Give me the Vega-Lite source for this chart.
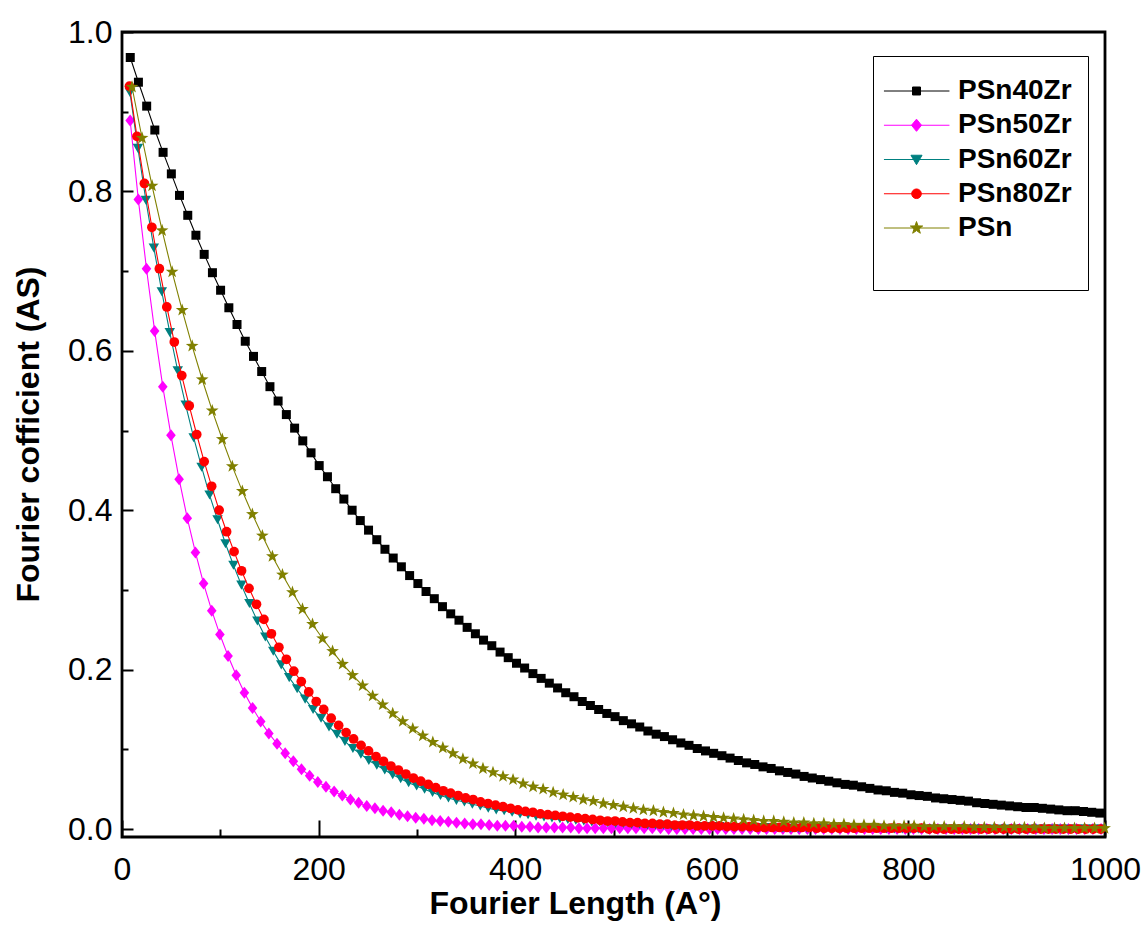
{
"$schema":"https://vega.github.io/schema/vega-lite/v6.json",
"width":983,"height":805,
"autosize":{"type":"none"},
"padding":{"left":122,"top":32,"right":43,"bottom":102},
"background":"white",
"config":{"view":{"stroke":"black","strokeWidth":2.8},"font":"Liberation Sans","axis":{"grid":false,"domain":false,"tickColor":"black","tickWidth":2,"labelColor":"black","titleColor":"black"}},
"datasets":{
"s1":[{"x":8.4,"y":0.968},{"x":16.7,"y":0.937},{"x":25.1,"y":0.907},{"x":33.4,"y":0.877},{"x":41.8,"y":0.849},{"x":50.2,"y":0.822},{"x":58.5,"y":0.795},{"x":66.9,"y":0.770},{"x":75.2,"y":0.745},{"x":83.6,"y":0.721},{"x":92.0,"y":0.698},{"x":100.3,"y":0.676},{"x":108.7,"y":0.654},{"x":117.0,"y":0.633},{"x":125.4,"y":0.612},{"x":133.8,"y":0.593},{"x":142.1,"y":0.574},{"x":150.5,"y":0.555},{"x":158.8,"y":0.537},{"x":167.2,"y":0.520},{"x":175.6,"y":0.503},{"x":183.9,"y":0.487},{"x":192.3,"y":0.472},{"x":200.6,"y":0.456},{"x":209.0,"y":0.442},{"x":217.4,"y":0.427},{"x":225.7,"y":0.414},{"x":234.1,"y":0.400},{"x":242.4,"y":0.387},{"x":250.8,"y":0.375},{"x":259.2,"y":0.363},{"x":267.5,"y":0.351},{"x":275.9,"y":0.340},{"x":284.2,"y":0.329},{"x":292.6,"y":0.318},{"x":301.0,"y":0.308},{"x":309.3,"y":0.298},{"x":317.7,"y":0.289},{"x":326.0,"y":0.279},{"x":334.4,"y":0.270},{"x":342.8,"y":0.262},{"x":351.1,"y":0.253},{"x":359.5,"y":0.245},{"x":367.8,"y":0.237},{"x":376.2,"y":0.230},{"x":384.6,"y":0.222},{"x":392.9,"y":0.215},{"x":401.3,"y":0.208},{"x":409.6,"y":0.202},{"x":418.0,"y":0.195},{"x":426.4,"y":0.189},{"x":434.7,"y":0.183},{"x":443.1,"y":0.177},{"x":451.4,"y":0.171},{"x":459.8,"y":0.166},{"x":468.2,"y":0.160},{"x":476.5,"y":0.155},{"x":484.9,"y":0.150},{"x":493.2,"y":0.145},{"x":501.6,"y":0.141},{"x":510.0,"y":0.136},{"x":518.3,"y":0.132},{"x":526.7,"y":0.128},{"x":535.0,"y":0.123},{"x":543.4,"y":0.119},{"x":551.8,"y":0.116},{"x":560.1,"y":0.112},{"x":568.5,"y":0.108},{"x":576.8,"y":0.105},{"x":585.2,"y":0.101},{"x":593.6,"y":0.098},{"x":601.9,"y":0.095},{"x":610.3,"y":0.092},{"x":618.6,"y":0.089},{"x":627.0,"y":0.086},{"x":635.4,"y":0.083},{"x":643.7,"y":0.081},{"x":652.1,"y":0.078},{"x":660.4,"y":0.076},{"x":668.8,"y":0.073},{"x":677.2,"y":0.071},{"x":685.5,"y":0.069},{"x":693.9,"y":0.066},{"x":702.2,"y":0.064},{"x":710.6,"y":0.062},{"x":719.0,"y":0.060},{"x":727.3,"y":0.058},{"x":735.7,"y":0.056},{"x":744.0,"y":0.055},{"x":752.4,"y":0.053},{"x":760.8,"y":0.051},{"x":769.1,"y":0.049},{"x":777.5,"y":0.048},{"x":785.8,"y":0.046},{"x":794.2,"y":0.045},{"x":802.6,"y":0.043},{"x":810.9,"y":0.042},{"x":819.3,"y":0.041},{"x":827.6,"y":0.039},{"x":836.0,"y":0.038},{"x":844.4,"y":0.037},{"x":852.7,"y":0.036},{"x":861.1,"y":0.035},{"x":869.4,"y":0.033},{"x":877.8,"y":0.032},{"x":886.2,"y":0.031},{"x":894.5,"y":0.030},{"x":902.9,"y":0.029},{"x":911.2,"y":0.028},{"x":919.6,"y":0.027},{"x":928.0,"y":0.027},{"x":936.3,"y":0.026},{"x":944.7,"y":0.025},{"x":953.0,"y":0.024},{"x":961.4,"y":0.023},{"x":969.8,"y":0.023},{"x":978.1,"y":0.022},{"x":986.5,"y":0.021},{"x":994.8,"y":0.020}],
"s2":[{"x":8.3,"y":0.889},{"x":16.6,"y":0.790},{"x":24.9,"y":0.703},{"x":33.2,"y":0.625},{"x":41.5,"y":0.555},{"x":49.8,"y":0.494},{"x":58.1,"y":0.439},{"x":66.4,"y":0.390},{"x":74.7,"y":0.347},{"x":83.0,"y":0.308},{"x":91.3,"y":0.274},{"x":99.6,"y":0.244},{"x":107.9,"y":0.217},{"x":116.2,"y":0.193},{"x":124.5,"y":0.171},{"x":132.8,"y":0.152},{"x":141.1,"y":0.135},{"x":149.4,"y":0.120},{"x":157.7,"y":0.107},{"x":166.0,"y":0.095},{"x":174.3,"y":0.085},{"x":182.6,"y":0.075},{"x":190.9,"y":0.067},{"x":199.2,"y":0.059},{"x":207.5,"y":0.053},{"x":215.8,"y":0.047},{"x":224.1,"y":0.042},{"x":232.4,"y":0.037},{"x":240.7,"y":0.033},{"x":249.0,"y":0.029},{"x":257.3,"y":0.026},{"x":265.6,"y":0.023},{"x":273.9,"y":0.021},{"x":282.2,"y":0.018},{"x":290.5,"y":0.016},{"x":298.8,"y":0.014},{"x":307.1,"y":0.013},{"x":315.4,"y":0.011},{"x":323.7,"y":0.010},{"x":332.0,"y":0.009},{"x":340.3,"y":0.008},{"x":348.6,"y":0.007},{"x":356.9,"y":0.006},{"x":365.2,"y":0.006},{"x":373.5,"y":0.005},{"x":381.8,"y":0.004},{"x":390.1,"y":0.004},{"x":398.4,"y":0.004},{"x":406.7,"y":0.003},{"x":415.0,"y":0.003},{"x":423.3,"y":0.002},{"x":431.6,"y":0.002},{"x":439.9,"y":0.002},{"x":448.2,"y":0.002},{"x":456.5,"y":0.002},{"x":464.8,"y":0.001},{"x":473.1,"y":0.001},{"x":481.4,"y":0.001},{"x":489.7,"y":0.001},{"x":498.0,"y":0.001},{"x":506.3,"y":0.001},{"x":514.6,"y":0.001},{"x":522.9,"y":0.001},{"x":531.2,"y":0.001},{"x":539.5,"y":0.001},{"x":547.8,"y":0.001},{"x":556.1,"y":0},{"x":564.4,"y":0},{"x":572.7,"y":0},{"x":581.0,"y":0},{"x":589.3,"y":0},{"x":597.6,"y":0},{"x":605.9,"y":0},{"x":614.2,"y":0},{"x":622.5,"y":0},{"x":630.8,"y":0},{"x":639.1,"y":0},{"x":647.4,"y":0},{"x":655.7,"y":0},{"x":664.0,"y":0},{"x":672.3,"y":0},{"x":680.6,"y":0},{"x":688.9,"y":0},{"x":697.2,"y":0},{"x":705.5,"y":0},{"x":713.8,"y":0},{"x":722.1,"y":0},{"x":730.4,"y":0},{"x":738.7,"y":0},{"x":747.0,"y":0},{"x":755.3,"y":0},{"x":763.6,"y":0},{"x":771.9,"y":0},{"x":780.2,"y":0},{"x":788.5,"y":0},{"x":796.8,"y":0},{"x":805.1,"y":0},{"x":813.4,"y":0},{"x":821.7,"y":0},{"x":830.0,"y":0},{"x":838.3,"y":0},{"x":846.6,"y":0},{"x":854.9,"y":0},{"x":863.2,"y":0},{"x":871.5,"y":0},{"x":879.8,"y":0},{"x":888.1,"y":0},{"x":896.4,"y":0},{"x":904.7,"y":0},{"x":913.0,"y":0},{"x":921.3,"y":0},{"x":929.6,"y":0},{"x":937.9,"y":0},{"x":946.2,"y":0},{"x":954.5,"y":0},{"x":962.8,"y":0},{"x":971.1,"y":0},{"x":979.4,"y":0},{"x":987.7,"y":0},{"x":996.0,"y":0}],
"s3":[{"x":8.1,"y":0.924},{"x":16.2,"y":0.854},{"x":24.3,"y":0.789},{"x":32.4,"y":0.729},{"x":40.5,"y":0.674},{"x":48.6,"y":0.623},{"x":56.7,"y":0.575},{"x":64.8,"y":0.532},{"x":72.9,"y":0.491},{"x":81.0,"y":0.454},{"x":89.1,"y":0.419},{"x":97.2,"y":0.388},{"x":105.3,"y":0.358},{"x":113.4,"y":0.331},{"x":121.5,"y":0.306},{"x":129.6,"y":0.283},{"x":137.7,"y":0.261},{"x":145.8,"y":0.241},{"x":153.9,"y":0.223},{"x":162.0,"y":0.206},{"x":170.1,"y":0.190},{"x":178.2,"y":0.176},{"x":186.3,"y":0.163},{"x":194.4,"y":0.150},{"x":202.5,"y":0.139},{"x":210.6,"y":0.128},{"x":218.7,"y":0.119},{"x":226.8,"y":0.110},{"x":234.9,"y":0.101},{"x":243.0,"y":0.094},{"x":251.1,"y":0.086},{"x":259.2,"y":0.080},{"x":267.3,"y":0.074},{"x":275.4,"y":0.068},{"x":283.5,"y":0.063},{"x":291.6,"y":0.058},{"x":299.7,"y":0.054},{"x":307.8,"y":0.050},{"x":315.9,"y":0.046},{"x":324.0,"y":0.042},{"x":332.1,"y":0.039},{"x":340.2,"y":0.036},{"x":348.3,"y":0.034},{"x":356.4,"y":0.031},{"x":364.5,"y":0.029},{"x":372.6,"y":0.026},{"x":380.7,"y":0.024},{"x":388.8,"y":0.023},{"x":396.9,"y":0.021},{"x":405.0,"y":0.019},{"x":413.1,"y":0.018},{"x":421.2,"y":0.016},{"x":429.3,"y":0.015},{"x":437.4,"y":0.014},{"x":445.5,"y":0.013},{"x":453.6,"y":0.012},{"x":461.7,"y":0.011},{"x":469.8,"y":0.010},{"x":477.9,"y":0.009},{"x":486.0,"y":0.009},{"x":494.1,"y":0.008},{"x":502.2,"y":0.007},{"x":510.3,"y":0.007},{"x":518.4,"y":0.006},{"x":526.5,"y":0.006},{"x":534.6,"y":0.005},{"x":542.7,"y":0.005},{"x":550.8,"y":0.005},{"x":558.9,"y":0.004},{"x":567.0,"y":0.004},{"x":575.1,"y":0.004},{"x":583.2,"y":0.003},{"x":591.3,"y":0.003},{"x":599.4,"y":0.003},{"x":607.5,"y":0.003},{"x":615.6,"y":0.002},{"x":623.7,"y":0.002},{"x":631.8,"y":0.002},{"x":639.9,"y":0.002},{"x":648.0,"y":0.002},{"x":656.1,"y":0.002},{"x":664.2,"y":0.002},{"x":672.3,"y":0.001},{"x":680.4,"y":0.001},{"x":688.5,"y":0.001},{"x":696.6,"y":0.001},{"x":704.7,"y":0.001},{"x":712.8,"y":0.001},{"x":720.9,"y":0.001},{"x":729.0,"y":0.001},{"x":737.1,"y":0.001},{"x":745.2,"y":0.001},{"x":753.3,"y":0.001},{"x":761.4,"y":0.001},{"x":769.5,"y":0.001},{"x":777.6,"y":0},{"x":785.7,"y":0},{"x":793.8,"y":0},{"x":801.9,"y":0},{"x":810.0,"y":0},{"x":818.1,"y":0},{"x":826.2,"y":0},{"x":834.3,"y":0},{"x":842.4,"y":0},{"x":850.5,"y":0},{"x":858.6,"y":0},{"x":866.7,"y":0},{"x":874.8,"y":0},{"x":882.9,"y":0},{"x":891.0,"y":0},{"x":899.1,"y":0},{"x":907.2,"y":0},{"x":915.3,"y":0},{"x":923.4,"y":0},{"x":931.5,"y":0},{"x":939.6,"y":0},{"x":947.7,"y":0},{"x":955.8,"y":0},{"x":963.9,"y":0},{"x":972.0,"y":0},{"x":980.1,"y":0},{"x":988.2,"y":0},{"x":996.3,"y":0}],
"s4":[{"x":7.6,"y":0.932},{"x":15.2,"y":0.869},{"x":22.8,"y":0.810},{"x":30.4,"y":0.755},{"x":38.0,"y":0.703},{"x":45.6,"y":0.655},{"x":53.2,"y":0.611},{"x":60.8,"y":0.569},{"x":68.4,"y":0.531},{"x":76.0,"y":0.495},{"x":83.6,"y":0.461},{"x":91.2,"y":0.430},{"x":98.8,"y":0.400},{"x":106.4,"y":0.373},{"x":114.0,"y":0.348},{"x":121.6,"y":0.324},{"x":129.2,"y":0.302},{"x":136.8,"y":0.282},{"x":144.4,"y":0.263},{"x":152.0,"y":0.245},{"x":159.6,"y":0.228},{"x":167.2,"y":0.213},{"x":174.8,"y":0.198},{"x":182.4,"y":0.185},{"x":190.0,"y":0.172},{"x":197.6,"y":0.160},{"x":205.2,"y":0.150},{"x":212.8,"y":0.139},{"x":220.4,"y":0.130},{"x":228.0,"y":0.121},{"x":235.6,"y":0.113},{"x":243.2,"y":0.105},{"x":250.8,"y":0.098},{"x":258.4,"y":0.091},{"x":266.0,"y":0.085},{"x":273.6,"y":0.079},{"x":281.2,"y":0.074},{"x":288.8,"y":0.069},{"x":296.4,"y":0.064},{"x":304.0,"y":0.060},{"x":311.6,"y":0.056},{"x":319.2,"y":0.052},{"x":326.8,"y":0.048},{"x":334.4,"y":0.045},{"x":342.0,"y":0.042},{"x":349.6,"y":0.039},{"x":357.2,"y":0.037},{"x":364.8,"y":0.034},{"x":372.4,"y":0.032},{"x":380.0,"y":0.030},{"x":387.6,"y":0.028},{"x":395.2,"y":0.026},{"x":402.8,"y":0.024},{"x":410.4,"y":0.022},{"x":418.0,"y":0.021},{"x":425.6,"y":0.019},{"x":433.2,"y":0.018},{"x":440.8,"y":0.017},{"x":448.4,"y":0.016},{"x":456.0,"y":0.015},{"x":463.6,"y":0.014},{"x":471.2,"y":0.013},{"x":478.8,"y":0.012},{"x":486.4,"y":0.011},{"x":494.0,"y":0.010},{"x":501.6,"y":0.010},{"x":509.2,"y":0.009},{"x":516.8,"y":0.008},{"x":524.4,"y":0.008},{"x":532.0,"y":0.007},{"x":539.6,"y":0.007},{"x":547.2,"y":0.006},{"x":554.8,"y":0.006},{"x":562.4,"y":0.005},{"x":570.0,"y":0.005},{"x":577.6,"y":0.005},{"x":585.2,"y":0.004},{"x":592.8,"y":0.004},{"x":600.4,"y":0.004},{"x":608.0,"y":0.004},{"x":615.6,"y":0.003},{"x":623.2,"y":0.003},{"x":630.8,"y":0.003},{"x":638.4,"y":0.003},{"x":646.0,"y":0.002},{"x":653.6,"y":0.002},{"x":661.2,"y":0.002},{"x":668.8,"y":0.002},{"x":676.4,"y":0.002},{"x":684.0,"y":0.002},{"x":691.6,"y":0.002},{"x":699.2,"y":0.002},{"x":706.8,"y":0.001},{"x":714.4,"y":0.001},{"x":722.0,"y":0.001},{"x":729.6,"y":0.001},{"x":737.2,"y":0.001},{"x":744.8,"y":0.001},{"x":752.4,"y":0.001},{"x":760.0,"y":0.001},{"x":767.6,"y":0.001},{"x":775.2,"y":0.001},{"x":782.8,"y":0.001},{"x":790.4,"y":0.001},{"x":798.0,"y":0.001},{"x":805.6,"y":0.001},{"x":813.2,"y":0.001},{"x":820.8,"y":0},{"x":828.4,"y":0},{"x":836.0,"y":0},{"x":843.6,"y":0},{"x":851.2,"y":0},{"x":858.8,"y":0},{"x":866.4,"y":0},{"x":874.0,"y":0},{"x":881.6,"y":0},{"x":889.2,"y":0},{"x":896.8,"y":0},{"x":904.4,"y":0},{"x":912.0,"y":0},{"x":919.6,"y":0},{"x":927.2,"y":0},{"x":934.8,"y":0},{"x":942.4,"y":0},{"x":950.0,"y":0},{"x":957.6,"y":0},{"x":965.2,"y":0},{"x":972.8,"y":0},{"x":980.4,"y":0},{"x":988.0,"y":0},{"x":995.6,"y":0}],
"s5":[{"x":10.2,"y":0.931},{"x":20.4,"y":0.867},{"x":30.6,"y":0.807},{"x":40.8,"y":0.751},{"x":51.0,"y":0.699},{"x":61.2,"y":0.651},{"x":71.4,"y":0.606},{"x":81.6,"y":0.564},{"x":91.8,"y":0.525},{"x":102.0,"y":0.489},{"x":112.2,"y":0.455},{"x":122.4,"y":0.424},{"x":132.6,"y":0.395},{"x":142.8,"y":0.368},{"x":153.0,"y":0.342},{"x":163.2,"y":0.319},{"x":173.4,"y":0.297},{"x":183.6,"y":0.276},{"x":193.8,"y":0.257},{"x":204.0,"y":0.239},{"x":214.2,"y":0.223},{"x":224.4,"y":0.207},{"x":234.6,"y":0.193},{"x":244.8,"y":0.180},{"x":255.0,"y":0.167},{"x":265.2,"y":0.156},{"x":275.4,"y":0.145},{"x":285.6,"y":0.135},{"x":295.8,"y":0.126},{"x":306.0,"y":0.117},{"x":316.2,"y":0.109},{"x":326.4,"y":0.102},{"x":336.6,"y":0.095},{"x":346.8,"y":0.088},{"x":357.0,"y":0.082},{"x":367.2,"y":0.076},{"x":377.4,"y":0.071},{"x":387.6,"y":0.066},{"x":397.8,"y":0.062},{"x":408.0,"y":0.057},{"x":418.2,"y":0.053},{"x":428.4,"y":0.050},{"x":438.6,"y":0.046},{"x":448.8,"y":0.043},{"x":459.0,"y":0.040},{"x":469.2,"y":0.037},{"x":479.4,"y":0.035},{"x":489.6,"y":0.032},{"x":499.8,"y":0.030},{"x":510.0,"y":0.028},{"x":520.2,"y":0.026},{"x":530.4,"y":0.024},{"x":540.6,"y":0.023},{"x":550.8,"y":0.021},{"x":561.0,"y":0.020},{"x":571.2,"y":0.018},{"x":581.4,"y":0.017},{"x":591.6,"y":0.016},{"x":601.8,"y":0.015},{"x":612.0,"y":0.014},{"x":622.2,"y":0.013},{"x":632.4,"y":0.012},{"x":642.6,"y":0.011},{"x":652.8,"y":0.010},{"x":663.0,"y":0.010},{"x":673.2,"y":0.009},{"x":683.4,"y":0.008},{"x":693.6,"y":0.008},{"x":703.8,"y":0.007},{"x":714.0,"y":0.007},{"x":724.2,"y":0.006},{"x":734.4,"y":0.006},{"x":744.6,"y":0.005},{"x":754.8,"y":0.005},{"x":765.0,"y":0.005},{"x":775.2,"y":0.004},{"x":785.4,"y":0.004},{"x":795.6,"y":0.004},{"x":805.8,"y":0.004},{"x":816.0,"y":0.003},{"x":826.2,"y":0.003},{"x":836.4,"y":0.003},{"x":846.6,"y":0.003},{"x":856.8,"y":0.003},{"x":867.0,"y":0.002},{"x":877.2,"y":0.002},{"x":887.4,"y":0.002},{"x":897.6,"y":0.002},{"x":907.8,"y":0.002},{"x":918.0,"y":0.002},{"x":928.2,"y":0.002},{"x":938.4,"y":0.001},{"x":948.6,"y":0.001},{"x":958.8,"y":0.001},{"x":969.0,"y":0.001},{"x":979.2,"y":0.001},{"x":989.4,"y":0.001},{"x":999.6,"y":0.001}]
},
"encoding":{
"x":{"field":"x","type":"quantitative","scale":{"domain":[0,1000],"nice":false,"zero":false},"axis":null},
"y":{"field":"y","type":"quantitative","scale":{"domain":[-0.01,1],"nice":false,"zero":false},"axis":null}
},
"layer":[
{"data":{"name":"s1"},"mark":{"type":"line","strokeWidth":1.1},
 "encoding":{
  "x":{"field":"x","type":"quantitative","scale":{"domain":[0,1000],"nice":false,"zero":false},"axis":{"orient":"bottom","values":[100,300,500,700,900],"tickSize":-8,"tickWidth":2,"labels":false,"domain":false,"grid":false,"title":null}},
  "y":{"field":"y","type":"quantitative","scale":{"domain":[-0.01,1],"nice":false,"zero":false},"axis":{"orient":"left","values":[0.1,0.3,0.5,0.7,0.9],"tickSize":-6,"tickWidth":2,"labels":false,"domain":false,"grid":false,"title":null}},
  "color":{"datum":"PSn40Zr","scale":{"domain":["PSn40Zr","PSn50Zr","PSn60Zr","PSn80Zr","PSn"],"range":["#000000","#ff00ff","#008080","#ff0000","#808000"]},
   "legend":{"orient":"none","legendX":751,"legendY":24,"title":" ","titleOrient":"bottom","titleFontSize":24,"titlePadding":8,"fillColor":"white","strokeColor":"black","padding":16,"labelFont":"Liberation Sans","labelFontSize":28,"labelFontWeight":"bold","labelColor":"black","labelOffset":31,"symbolSize":1369,"rowPadding":1.25,
    "encode":{"symbols":{"update":{
     "shape":{"signal":"datum.value==='PSn40Zr'?'M-1.3,0L2.24,0M0.244,-0.216L0.676,-0.216L0.676,0.216L0.244,0.216Z':datum.value==='PSn50Zr'?'M-1.3,0L2.24,0M0.46,-0.33L0.73,0L0.46,0.33L0.19,0Z':datum.value==='PSn60Zr'?'M-1.3,0L2.24,0M0.16,-0.23L0.76,-0.23L0.46,0.28Z':datum.value==='PSn80Zr'?'M-1.3,0L2.24,0M0.2,0A0.26,0.26,0,1,0,0.72,0A0.26,0.26,0,1,0,0.2,0Z':'M-1.3,0L2.24,0M0.46,-0.35L0.542,-0.113L0.793,-0.108L0.593,0.043L0.666,0.283L0.46,0.14L0.254,0.283L0.327,0.043L0.127,-0.108L0.378,-0.113Z'"},
     "fill":{"scale":"color","field":"value"},
     "stroke":{"scale":"color","field":"value"},
     "strokeWidth":{"value":1},
     "opacity":{"value":1}}}}}}
 }},
{"data":{"name":"s1"},"mark":{"type":"point","shape":"square","filled":true,"size":81,"opacity":1},
 "encoding":{
  "x":{"field":"x","type":"quantitative","scale":{"domain":[0,1000],"nice":false,"zero":false},"axis":{"orient":"bottom","values":[0,200,400,600,800,1000],"format":"d","tickSize":-17,"tickWidth":2,"labelPadding":34.7,"labelFont":"Liberation Sans","labelFontSize":32,"labelColor":"black","labelFlush":false,"labelOverlap":false,"domain":false,"grid":false,"title":"Fourier Length (A°)","titleFont":"Liberation Sans","titleFontSize":32,"titleFontWeight":"bold","titleColor":"black","titleX":453,"titleY":76,"titleBaseline":"alphabetic","titleAlign":"center"}},
  "y":{"field":"y","type":"quantitative","scale":{"domain":[-0.01,1],"nice":false,"zero":false},"axis":{"orient":"left","values":[0,0.2,0.4,0.6,0.8,1],"format":".1f","tickSize":-11,"tickWidth":2,"labelPadding":21,"labelFont":"Liberation Sans","labelFontSize":32,"labelColor":"black","labelFlush":false,"labelOverlap":false,"domain":false,"grid":false,"title":"Fourier cofficient (AS)","titleFont":"Liberation Sans","titleFontSize":32,"titleFontWeight":"bold","titleColor":"black","titleX":-84,"titleY":402,"titleAngle":270,"titleBaseline":"alphabetic","titleAlign":"center"}},
  "color":{"datum":"PSn40Zr","scale":{"domain":["PSn40Zr","PSn50Zr","PSn60Zr","PSn80Zr","PSn"],"range":["#000000","#ff00ff","#008080","#ff0000","#808000"]}}
 }},
{"data":{"name":"s2"},"mark":{"type":"line","strokeWidth":1.1},"encoding":{"color":{"datum":"PSn50Zr"}}},
{"data":{"name":"s2"},"mark":{"type":"point","shape":"M0,-1L0.8,0L0,1L-0.8,0Z","filled":true,"size":144,"opacity":1},"encoding":{"color":{"datum":"PSn50Zr"}}},
{"data":{"name":"s3"},"mark":{"type":"line","strokeWidth":1.1},"encoding":{"color":{"datum":"PSn60Zr"}}},
{"data":{"name":"s3"},"mark":{"type":"point","shape":"triangle-down","filled":true,"size":110,"opacity":1},"encoding":{"color":{"datum":"PSn60Zr"}}},
{"data":{"name":"s4"},"mark":{"type":"line","strokeWidth":1.1},"encoding":{"color":{"datum":"PSn80Zr"}}},
{"data":{"name":"s4"},"mark":{"type":"point","shape":"circle","filled":true,"size":95,"opacity":1},"encoding":{"color":{"datum":"PSn80Zr"}}},
{"data":{"name":"s5"},"mark":{"type":"line","strokeWidth":1.1},"encoding":{"color":{"datum":"PSn"}}},
{"data":{"name":"s5"},"mark":{"type":"point","shape":"M0,-1L0.235,-0.324L0.951,-0.309L0.38,0.124L0.588,0.809L0,0.4L-0.588,0.809L-0.38,0.124L-0.951,-0.309L-0.235,-0.324Z","filled":true,"size":180,"opacity":1},"encoding":{"color":{"datum":"PSn"}}}
],
"resolve":{"axis":{"x":"independent","y":"independent"}}
}
